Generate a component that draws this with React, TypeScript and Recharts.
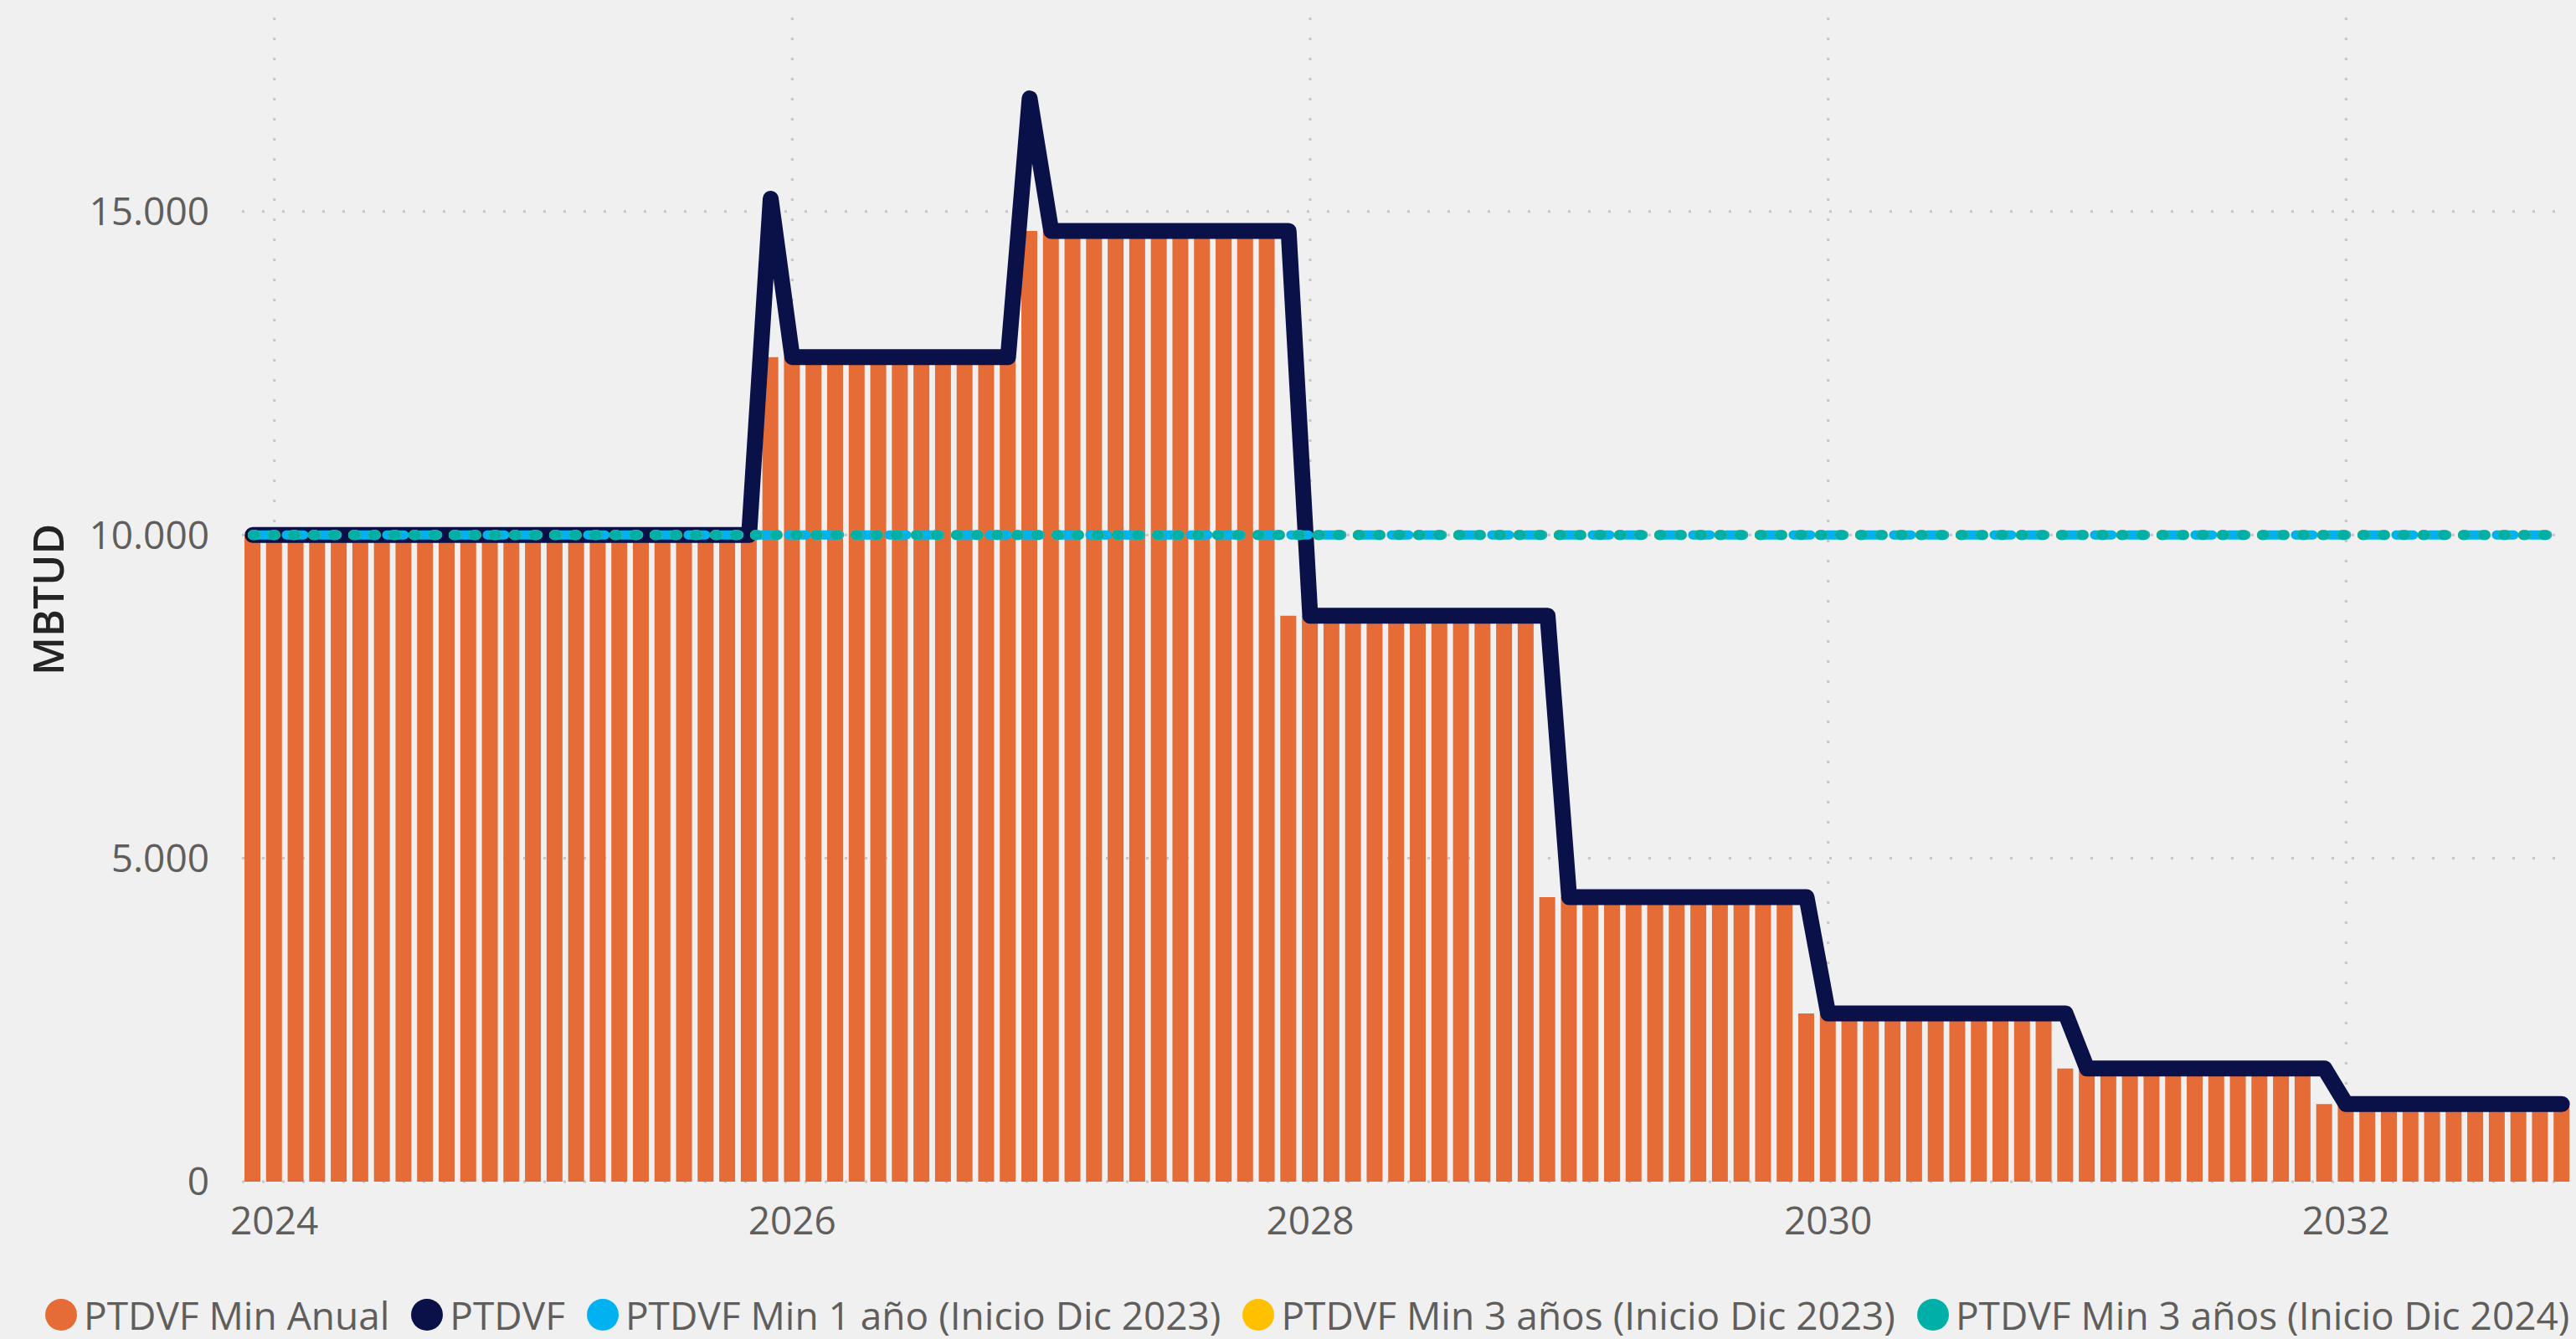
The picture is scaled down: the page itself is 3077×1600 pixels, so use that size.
import { ComposedChart, Bar, Line, XAxis, YAxis, CartesianGrid } from "recharts";

const FONT = '"Open Sans", "Noto Sans", sans-serif';

// months run Dec 2023 .. Nov 2032 (contract years start in December)
const monthNames = ["dic", "ene", "feb", "mar", "abr", "may", "jun", "jul", "ago", "sep", "oct", "nov"];
const contractYears = [2023, 2024, 2025, 2026, 2027, 2028, 2029, 2030, 2031];
const tickYears = [2024, 2026, 2028, 2030, 2032];
const yTicks = [0, 5000, 10000, 15000];

// PTDVF Min Anual (bars), one row per contract year Dec..Nov
const ptdvfMinAnual = [
  10000, 10000, 10000, 10000, 10000, 10000, 10000, 10000, 10000, 10000, 10000, 10000,
  10000, 10000, 10000, 10000, 10000, 10000, 10000, 10000, 10000, 10000, 10000, 10000,
  12750, 12750, 12750, 12750, 12750, 12750, 12750, 12750, 12750, 12750, 12750, 12750,
  14700, 14700, 14700, 14700, 14700, 14700, 14700, 14700, 14700, 14700, 14700, 14700,
  8750, 8750, 8750, 8750, 8750, 8750, 8750, 8750, 8750, 8750, 8750, 8750,
  4400, 4400, 4400, 4400, 4400, 4400, 4400, 4400, 4400, 4400, 4400, 4400,
  2600, 2600, 2600, 2600, 2600, 2600, 2600, 2600, 2600, 2600, 2600, 2600,
  1750, 1750, 1750, 1750, 1750, 1750, 1750, 1750, 1750, 1750, 1750, 1750,
  1200, 1200, 1200, 1200, 1200, 1200, 1200, 1200, 1200, 1200, 1200, 1200,
];

// PTDVF (line)
const ptdvf = [
  10000, 10000, 10000, 10000, 10000, 10000, 10000, 10000, 10000, 10000, 10000, 10000,
  10000, 10000, 10000, 10000, 10000, 10000, 10000, 10000, 10000, 10000, 10000, 10000,
  15200, 12750, 12750, 12750, 12750, 12750, 12750, 12750, 12750, 12750, 12750, 12750,
  16750, 14700, 14700, 14700, 14700, 14700, 14700, 14700, 14700, 14700, 14700, 14700,
  14700, 8750, 8750, 8750, 8750, 8750, 8750, 8750, 8750, 8750, 8750, 8750,
  8750, 4400, 4400, 4400, 4400, 4400, 4400, 4400, 4400, 4400, 4400, 4400,
  4400, 2600, 2600, 2600, 2600, 2600, 2600, 2600, 2600, 2600, 2600, 2600,
  2600, 1750, 1750, 1750, 1750, 1750, 1750, 1750, 1750, 1750, 1750, 1750,
  1750, 1200, 1200, 1200, 1200, 1200, 1200, 1200, 1200, 1200, 1200, 1200,
];

// PTDVF Min 1 año (Inicio Dic 2023)
const min1Dic2023 = [
  10000, 10000, 10000, 10000, 10000, 10000, 10000, 10000, 10000, 10000, 10000, 10000,
  10000, 10000, 10000, 10000, 10000, 10000, 10000, 10000, 10000, 10000, 10000, 10000,
  10000, 10000, 10000, 10000, 10000, 10000, 10000, 10000, 10000, 10000, 10000, 10000,
  10000, 10000, 10000, 10000, 10000, 10000, 10000, 10000, 10000, 10000, 10000, 10000,
  10000, 10000, 10000, 10000, 10000, 10000, 10000, 10000, 10000, 10000, 10000, 10000,
  10000, 10000, 10000, 10000, 10000, 10000, 10000, 10000, 10000, 10000, 10000, 10000,
  10000, 10000, 10000, 10000, 10000, 10000, 10000, 10000, 10000, 10000, 10000, 10000,
  10000, 10000, 10000, 10000, 10000, 10000, 10000, 10000, 10000, 10000, 10000, 10000,
  10000, 10000, 10000, 10000, 10000, 10000, 10000, 10000, 10000, 10000, 10000, 10000,
];

// PTDVF Min 3 años (Inicio Dic 2023) - hidden under the Dic 2024 series
const min3Dic2023 = [
  10000, 10000, 10000, 10000, 10000, 10000, 10000, 10000, 10000, 10000, 10000, 10000,
  10000, 10000, 10000, 10000, 10000, 10000, 10000, 10000, 10000, 10000, 10000, 10000,
  10000, 10000, 10000, 10000, 10000, 10000, 10000, 10000, 10000, 10000, 10000, 10000,
  10000, 10000, 10000, 10000, 10000, 10000, 10000, 10000, 10000, 10000, 10000, 10000,
  10000, 10000, 10000, 10000, 10000, 10000, 10000, 10000, 10000, 10000, 10000, 10000,
  10000, 10000, 10000, 10000, 10000, 10000, 10000, 10000, 10000, 10000, 10000, 10000,
  10000, 10000, 10000, 10000, 10000, 10000, 10000, 10000, 10000, 10000, 10000, 10000,
  10000, 10000, 10000, 10000, 10000, 10000, 10000, 10000, 10000, 10000, 10000, 10000,
  10000, 10000, 10000, 10000, 10000, 10000, 10000, 10000, 10000, 10000, 10000, 10000,
];

// PTDVF Min 3 años (Inicio Dic 2024)
const min3Dic2024 = [
  10000, 10000, 10000, 10000, 10000, 10000, 10000, 10000, 10000, 10000, 10000, 10000,
  10000, 10000, 10000, 10000, 10000, 10000, 10000, 10000, 10000, 10000, 10000, 10000,
  10000, 10000, 10000, 10000, 10000, 10000, 10000, 10000, 10000, 10000, 10000, 10000,
  10000, 10000, 10000, 10000, 10000, 10000, 10000, 10000, 10000, 10000, 10000, 10000,
  10000, 10000, 10000, 10000, 10000, 10000, 10000, 10000, 10000, 10000, 10000, 10000,
  10000, 10000, 10000, 10000, 10000, 10000, 10000, 10000, 10000, 10000, 10000, 10000,
  10000, 10000, 10000, 10000, 10000, 10000, 10000, 10000, 10000, 10000, 10000, 10000,
  10000, 10000, 10000, 10000, 10000, 10000, 10000, 10000, 10000, 10000, 10000, 10000,
  10000, 10000, 10000, 10000, 10000, 10000, 10000, 10000, 10000, 10000, 10000, 10000,
];

const legendItems = [
  { name: "PTDVF Min Anual", color: "#E66C37" },
  { name: "PTDVF", color: "#0A1149" },
  { name: "PTDVF Min 1 año (Inicio Dic 2023)", color: "#00B2F0" },
  { name: "PTDVF Min 3 años (Inicio Dic 2023)", color: "#FFC000" },
  { name: "PTDVF Min 3 años (Inicio Dic 2024)", color: "#00B0A8" },
];

const data = ptdvfMinAnual.map((v, i) => {
  const cy = contractYears[Math.floor(i / 12)];
  const m = i % 12;
  return {
    idx: i,
    year: m === 0 ? cy : cy + 1,
    month: monthNames[m],
    anual: v,
    ptdvf: ptdvf[i],
    min1: min1Dic2023[i],
    min3a: min3Dic2023[i],
    min3b: min3Dic2024[i],
  };
});

const X_DOMAIN: [number, number] = [-0.5, data.length - 0.5];
const Y_DOMAIN: [number, number] = [0, 18000];

const xTicks = tickYears.map((y) => data.find((d) => d.year === y && d.month === "ene")!.idx);

const fmtThousands = (v: number) => String(v).replace(/\B(?=(\d{3})+(?!\d))/g, ".");

// grid only at the axis ticks, taken from the axis scale
const vGrid = (p: any) => {
  const s = p?.xAxis?.scale;
  if (typeof s === "function") return xTicks.map((t) => s(t));
  const o = p.offset;
  return xTicks.map((t) => o.left + ((t - X_DOMAIN[0]) / (X_DOMAIN[1] - X_DOMAIN[0])) * o.width);
};
const hGrid = (p: any) => {
  const s = p?.yAxis?.scale;
  if (typeof s === "function") return yTicks.map((t) => s(t));
  const o = p.offset;
  return yTicks.map((t) => o.top + o.height - ((t - Y_DOMAIN[0]) / (Y_DOMAIN[1] - Y_DOMAIN[0])) * o.height);
};

function AxisTitle(props: any) {
  const vb = props.viewBox || { y: 21, height: 1391 };
  const cy = vb.y + vb.height / 2;
  return (
    <text
      x={57}
      y={cy}
      transform={`rotate(-90, 57, ${cy})`}
      textAnchor="middle"
      dominantBaseline="central"
      fill="#252423"
      fontSize={50}
      fontWeight={600}
      fontFamily={FONT}
    >
      MBTUD
    </text>
  );
}

export default function App() {
  const tickStyle = { fill: "#605E5C", fontSize: 46, fontFamily: FONT };
  return (
    <div
      style={{
        position: "absolute",
        left: 0,
        top: 0,
        width: 3077,
        height: 1600,
        background: "#F0F0F0",
        fontFamily: FONT,
      }}
    >
      <ComposedChart width={3077} height={1600} data={data} margin={{ top: 21, right: 4, bottom: 128, left: 0 }}>
        <CartesianGrid
          stroke="#C8C6C4"
          strokeWidth={3}
          strokeDasharray="3 21"
          verticalCoordinatesGenerator={vGrid}
          horizontalCoordinatesGenerator={hGrid}
        />
        <XAxis
          dataKey="idx"
          type="number"
          domain={X_DOMAIN}
          ticks={xTicks}
          tickFormatter={(v: number) => String(data[v].year)}
          axisLine={false}
          tickLine={false}
          tickSize={0}
          tickMargin={30}
          height={60}
          tick={tickStyle}
          interval={0}
        />
        <YAxis
          domain={Y_DOMAIN}
          ticks={yTicks}
          tickFormatter={fmtThousands}
          axisLine={false}
          tickLine={false}
          tickSize={0}
          tickMargin={39}
          width={289}
          tick={tickStyle}
          label={<AxisTitle />}
        />
        <Bar dataKey="anual" fill="#E66C37" barSize={19} isAnimationActive={false} />
        <Line
          dataKey="ptdvf"
          type="linear"
          stroke="#0A1149"
          strokeWidth={19}
          strokeLinejoin="round"
          strokeLinecap="round"
          dot={false}
          activeDot={false}
          isAnimationActive={false}
        />
        <Line
          dataKey="min1"
          type="linear"
          stroke="#00B2F0"
          strokeWidth={11}
          strokeDasharray="21 19"
          strokeLinecap="round"
          dot={false}
          activeDot={false}
          isAnimationActive={false}
        />
        <Line
          dataKey="min3a"
          type="linear"
          stroke="#FFC000"
          strokeWidth={12}
          strokeDasharray="3 21"
          strokeLinecap="round"
          dot={false}
          activeDot={false}
          isAnimationActive={false}
        />
        <Line
          dataKey="min3b"
          type="linear"
          stroke="#00B0A8"
          strokeWidth={12}
          strokeDasharray="3 21"
          strokeLinecap="round"
          dot={false}
          activeDot={false}
          isAnimationActive={false}
        />
      </ComposedChart>
      <div
        style={{
          position: "absolute",
          left: 54,
          top: 1543,
          height: 56,
          display: "flex",
          alignItems: "center",
          whiteSpace: "nowrap",
          fontSize: 46,
          lineHeight: "56px",
          color: "#605E5C",
        }}
      >
        {legendItems.map((it) => (
          <div key={it.name} style={{ display: "flex", alignItems: "center", marginRight: 26 }}>
            <span
              style={{
                display: "inline-block",
                width: 38,
                height: 38,
                borderRadius: "50%",
                background: it.color,
                marginRight: 8,
              }}
            />
            <span>{it.name}</span>
          </div>
        ))}
      </div>
    </div>
  );
}
